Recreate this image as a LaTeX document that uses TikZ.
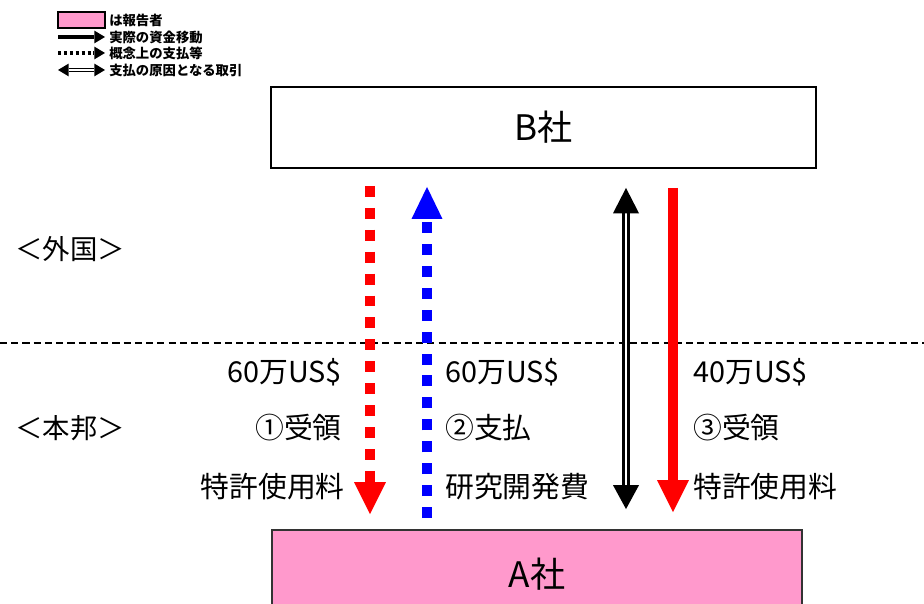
\documentclass[tikz,border=0pt]{standalone}
\usepackage{fontspec}
\setmainfont{Noto Sans CJK JP}
\usetikzlibrary{arrows.meta,positioning,calc}
\definecolor{ReportPink}{RGB}{255,153,204}

\begin{document}
\begin{tikzpicture}[x=0.25mm,y=-0.25mm,
    every node/.style={inner sep=0pt},
    lbl/.style={font=\fontsize{20.5}{24}\selectfont},
    side/.style={font=\fontsize{19.5}{22}\selectfont, anchor=west},
    key/.style={font=\bfseries\fontsize{9.5}{11}\selectfont, anchor=west},
    corp/.style={draw, line width=1.4pt, font=\fontsize{25}{28}\selectfont},
    bighead/.style={-{Triangle[width=22.7pt,length=22.7pt,line width=0pt]}},
    keyhead/.tip={Triangle[width=9pt,length=7.5pt,line width=0pt]},
    dots/.style={line width=7.8pt, dash pattern=on 7.8pt off 7.8pt}]
        \useasboundingbox (0,0) rectangle (924,604);

        % Companies
        \node[corp, minimum width=136.25mm, minimum height=20.25mm] (B) at (543.5,127.5) {B社};
        \node[corp, draw=black!80, fill=ReportPink, minimum width=132.5mm, minimum height=22mm] (A) at (537,574) {A社};

        % Border between abroad and home
        \coordinate (bl) at (0,343);
        \coordinate (br) at (924,343);
        \draw[line width=1.4pt, dash pattern=on 5pt off 3pt] (bl) -- (br);
        \node[side] (abroad) at (15,249) {＜外国＞};
        \node[side] (home) at (15,428) {＜本邦＞};

        % Flow columns
        \coordinate (c1) at (370,0);
        \coordinate (c2) at (427,0);
        \coordinate (c3) at (626,0);
        \coordinate (c4) at (673,0);

        % 1: royalty received (conceptual)
        \draw[dots, red, bighead, shorten <=12pt, shorten >=10.6pt] (B.south -| c1) -- (A.north -| c1);
        % 2: R&D cost paid (conceptual)
        \draw[dots, blue, -{Triangle[width=22pt,length=22.7pt,line width=0pt]}, shorten <=7.8pt, shorten >=12.8pt]
          (A.north -| c2) -- (B.south -| c2);
        % underlying transaction
        \draw[double, line width=2.2pt, double distance=1.4pt,
          {Triangle[width=18.5pt,length=18pt,line width=0pt]}-{Triangle[width=18.5pt,length=17pt,line width=0pt]},
          shorten <=13.5pt, shorten >=14.2pt] (B.south -| c3) -- (A.north -| c3);
        % 3: royalty received (actual)
        \draw[red, line width=7.8pt, bighead, shorten <=13.5pt, shorten >=12pt] (B.south -| c4) -- (A.north -| c4);

        % Amounts and items
        \node[lbl, anchor=east] (amt1) at (342,372) {60万US\$};
        \node[lbl, anchor=east] (op1) at (342,428) {①受領};
        \node[lbl, anchor=east] (item1) at (345,487) {特許使用料};
        \node[lbl, anchor=west] (amt2) at (445,372) {60万US\$};
        \node[lbl, anchor=west] (op2) at (445,428) {②支払};
        \node[lbl, anchor=west] (item2) at (445,487) {研究開発費};
        \node[lbl, anchor=west] (amt3) at (693,372) {40万US\$};
        \node[lbl, anchor=west] (op3) at (693,428) {③受領};
        \node[lbl, anchor=west] (item3) at (693,487) {特許使用料};

        % Legend
        \node[draw, line width=1.4pt, fill=ReportPink, minimum width=11.75mm, minimum height=4mm] (keybox) at (81.5,20) {};
        \node[key] (keyrep) at (109,20) {は報告者};
        \coordinate (k1a) at (58,37);
        \coordinate (k1b) at (105,37);
        \coordinate (k2a) at (58,53);
        \coordinate (k2b) at (105,53);
        \coordinate (k3a) at (58,70);
        \coordinate (k3b) at (105,70);
        \draw[line width=2.6pt, -keyhead] (k1a) -- (k1b);
        \draw[line width=2.6pt, dash pattern=on 2.4pt off 1.8pt, -keyhead] (k2a) -- (k2b);
        \draw[double, line width=1.1pt, double distance=1.3pt, keyhead-keyhead] (k3a) -- (k3b);
        \node[key] (keymove) at (109,37) {実際の資金移動};
        \node[key] (keyidea) at (109,53) {概念上の支払等};
        \node[key] (keycause) at (109,70) {支払の原因となる取引};
\end{tikzpicture}
\end{document}
